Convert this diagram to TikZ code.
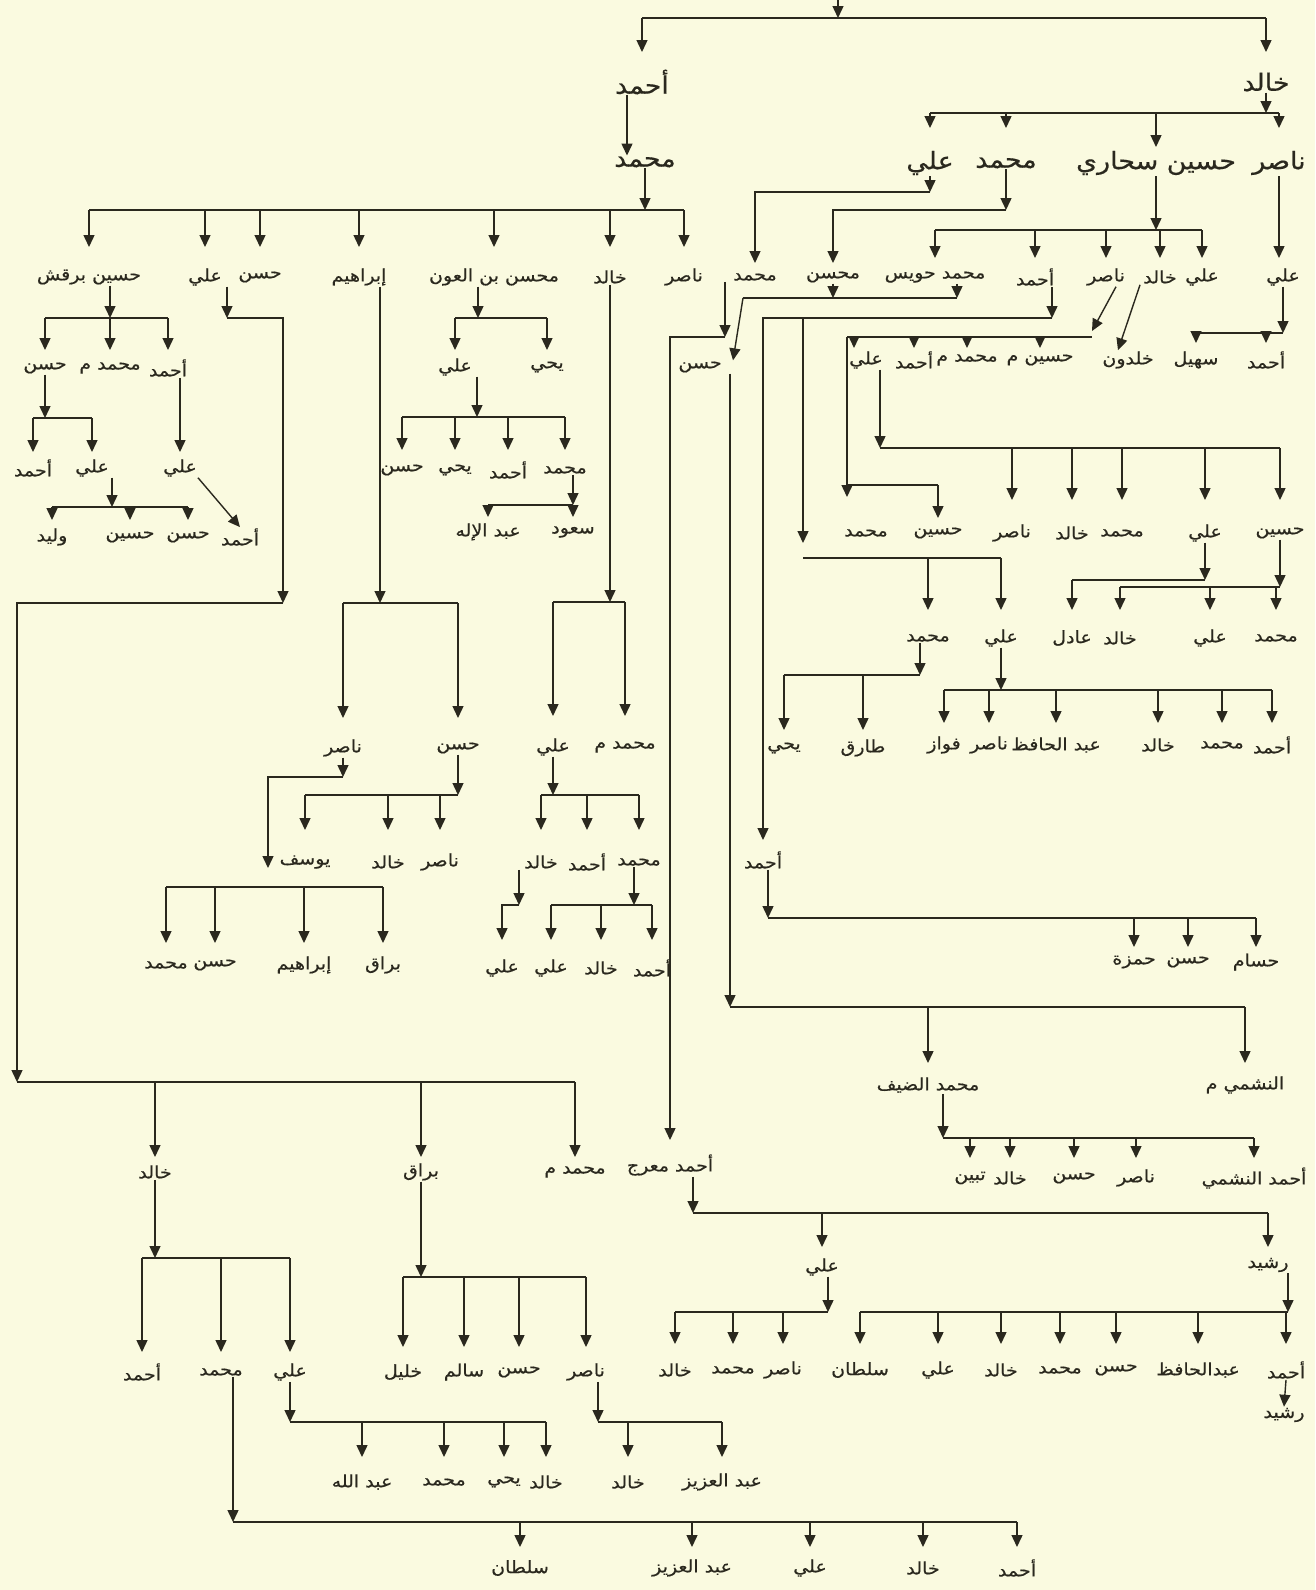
\documentclass[tikz,border=0pt]{standalone}
\usepackage{fontspec}
\usetikzlibrary{arrows.meta}
\newfontfamily\arabicfont[Script=Arabic, FakeStretch=1.12, FakeBold=0.5]{DejaVu Sans}
\TeXXeTstate=1
\definecolor{paper}{RGB}{250,250,224}
\definecolor{ink}{RGB}{42,40,30}
\newcommand{\ar}[1]{\beginR#1\endR}

\begin{document}
\begin{tikzpicture}[
    x=1pt, y=-1pt,
    person/.style={inner sep=1pt, text=ink, font=\arabicfont\fontsize{17}{17}\selectfont},
    elder/.style={inner sep=1pt, text=ink, font=\arabicfont\fontsize{24}{24}\selectfont},
    link/.style={draw=ink, line width=1.4pt},
    arr/.style={link, -{Triangle[length=12pt,width=11pt]}}
]
\fill[paper] (0,0) rectangle (1315,1590);
\useasboundingbox (0,0) rectangle (1315,1590);

% top
\coordinate (root) at (838,-2);
\coordinate (b0) at (0,18);
\coordinate (t0) at (0,52);
\node[elder] (ahmad) at (642,82) {\ar{أحمد}};
\node[elder] (khalid) at (1266,82) {\ar{خالد}};
\draw[link] (ahmad |- b0) -- (khalid |- b0);
\draw[arr] (root) -- (root |- b0);
\foreach \ch in {ahmad,khalid} \draw[arr] (\ch |- b0) -- (\ch |- t0);

\node[elder] (muhammad) at (645,162) {\ar{محمد}};
\coordinate (ahx) at ([xshift=-15pt]ahmad.south);
\draw[arr] (ahx) -- (ahx |- muhammad.north);

% sons of Muhammad
\coordinate (bm) at (0,210);
\coordinate (tm) at (0,247);
\node[person] (mhb) at (89,277) {\ar{حسين برقش}};
\node[person] (mal) at (205,277) {\ar{علي}};
\node[person] (mhs) at (260,277) {\ar{حسن}};
\node[person] (mib) at (359,277) {\ar{إبراهيم}};
\node[person] (mmh) at (494,277) {\ar{محسن بن العون}};
\node[person] (mkh) at (610,277) {\ar{خالد}};
\node[person] (mna) at (684,277) {\ar{ناصر}};
\draw[link] (mhb |- bm) -- (mna |- bm);
\draw[arr] (muhammad.south) -- (muhammad |- bm);
\foreach \ch in {mhb,mal,mhs,mib,mmh,mkh,mna} \draw[arr] (\ch |- bm) -- (\ch |- tm);

% sons of Khalid
\coordinate (bk) at (0,113);
\coordinate (tk) at (0,128);
\coordinate (tk2) at (0,147);
\node[elder] (kal) at (930,163) {\ar{علي}};
\node[elder] (kmu) at (1006,163) {\ar{محمد}};
\node[elder] (khu) at (1156,163) {\ar{حسين سحاري}};
\node[elder] (kna) at (1279,163) {\ar{ناصر}};
\draw[link] (kal |- bk) -- (kna |- bk);
\draw[arr] (khalid.south) -- (khalid |- bk);
\foreach \ch in {kal,kmu,kna} \draw[arr] (\ch |- bk) -- (\ch |- tk);
\draw[arr] (khu |- bk) -- (khu |- tk2);

\coordinate (bka) at (0,192);
\coordinate (bkm) at (0,210);
\coordinate (tka) at (0,263);
\node[person] (kam) at (755,277) {\ar{محمد}};
\node[person] (kmm) at (833,277) {\ar{محسن}};
\draw[arr] (kal.south) -- (kal |- bka);
\draw[arr] (kal |- bka) -| (kam |- tka);
\draw[arr] (kmu.south) -- (kmu |- bkm);
\draw[arr] (kmu |- bkm) -| (kmm |- tka);

% sons of Husayn Sahari
\coordinate (bh) at (0,230);
\coordinate (th) at (0,258);
\node[person] (hmh) at (935,277) {\ar{محمد حويس}};
\node[person] (hah) at (1035,277) {\ar{أحمد}};
\node[person] (hna) at (1106,277) {\ar{ناصر}};
\node[person] (hkh) at (1160,277) {\ar{خالد}};
\node[person] (hal) at (1202,277) {\ar{علي}};
\draw[link] (hmh |- bh) -- (hal |- bh);
\draw[arr] (khu.south) -- (khu |- bh);
\foreach \ch in {hmh,hah,hna,hkh,hal} \draw[arr] (\ch |- bh) -- (\ch |- th);

% son of Nasir
\node[person] (nal) at (1283,277) {\ar{علي}};
\draw[arr] (kna.south) -- (kna.south |- th);
\coordinate (bn) at (0,333);
\coordinate (tn) at (0,343);
\node[person] (nsh) at (1196,360) {\ar{سهيل}};
\node[person] (nah) at (1266,360) {\ar{أحمد}};
\draw[link] (nsh |- bn) -- (nal |- bn);
\draw[arr] (nal.south) -- (nal |- bn);
\foreach \ch in {nsh,nah} \draw[arr] (\ch |- bn) -- (\ch |- tn);

% Hasan under Muhsin
\coordinate (jn) at (743,298);
\node[person] (hsn) at (700,367) {\ar{حسن}};
\coordinate (hmhx) at ([xshift=22pt]hmh.south);
\draw[arr] (hmhx) -- (hmhx |- jn);
\draw[link] (jn) -- (hmhx |- jn);
\draw[arr] (kmm.south) -- (kmm |- jn);
\draw[arr] (jn) -- ([xshift=33pt]hsn.north);

% Ahmad Ma'raj
\coordinate (kamx) at ([xshift=-30pt]kam.south);
\coordinate (bkam) at (0,337);
\coordinate (tmj) at (0,1140);
\node[person] (maraj) at (670,1165) {\ar{أحمد معرج}};
\draw[arr] (kamx) -- (kamx |- bkam);
\draw[arr] (kamx |- bkam) -| (maraj |- tmj);

% sons of Hasan
\coordinate (hsnx) at ([xshift=30pt]hsn.south);
\coordinate (bs) at (0,1007);
\coordinate (ts) at (0,1063);
\node[person] (dayf) at (928,1085) {\ar{محمد الضيف}};
\node[person] (nashmi) at (1245,1085) {\ar{النشمي م}};
\draw[arr] (hsnx) -- (hsnx |- bs);
\draw[link] (hsnx |- bs) -- (nashmi |- bs);
\foreach \ch in {dayf,nashmi} \draw[arr] (\ch |- bs) -- (\ch |- ts);

\coordinate (dfx) at ([xshift=15pt]dayf.south);
\coordinate (bd) at (0,1138);
\coordinate (td) at (0,1158);
\node[person] (dtb) at (970,1178) {\ar{تبين}};
\node[person] (dkh) at (1010,1178) {\ar{خالد}};
\node[person] (dhs) at (1074,1178) {\ar{حسن}};
\node[person] (dna) at (1136,1178) {\ar{ناصر}};
\node[person] (dan) at (1254,1178) {\ar{أحمد النشمي}};
\draw[arr] (dfx) -- (dfx |- bd);
\draw[link] (dfx |- bd) -- (dan |- bd);
\foreach \ch in {dtb,dkh,dhs,dna,dan} \draw[arr] (\ch |- bd) -- (\ch |- td);

% sons of Ahmad (son of Husayn Sahari)
\coordinate (hahx) at ([xshift=17pt]hah.south);
\coordinate (ba) at (0,318);
\coordinate (ta) at (0,840);
\node[person] (ahm) at (763,860) {\ar{أحمد}};
\draw[arr] (hahx) -- (hahx |- ba);
\draw[arr] (hahx |- ba) -| (ahm |- ta);
\coordinate (fork) at (803,318);
\coordinate (tf) at (0,543);
\coordinate (bf) at (0,558);
\coordinate (tff) at (0,610);
\node[person] (fmu) at (928,638) {\ar{محمد}};
\node[person] (fal) at (1001,638) {\ar{علي}};
\draw[arr] (fork) -- (fork |- tf);
\draw[link] (fork |- bf) -- (fal |- bf);
\foreach \ch in {fmu,fal} \draw[arr] (\ch |- bf) -- (\ch |- tff);

\coordinate (ahmx) at ([xshift=5pt]ahm.south);
\coordinate (bam) at (0,918);
\coordinate (tam) at (0,947);
\node[person] (ahz) at (1134,962) {\ar{حمزة}};
\node[person] (ahs) at (1188,962) {\ar{حسن}};
\node[person] (ahsm) at (1256,962) {\ar{حسام}};
\draw[arr] (ahmx) -- (ahmx |- bam);
\draw[link] (ahmx |- bam) -- (ahsm |- bam);
\foreach \ch in {ahz,ahs,ahsm} \draw[arr] (\ch |- bam) -- (\ch |- tam);

% sons of Nasir (son of Husayn Sahari)
\coordinate (bq) at (0,337);
\coordinate (tq) at (0,348);
\coordinate (nst) at (847,337);
\coordinate (nend) at (1092,337);
\node[person] (qal) at (866,360) {\ar{علي}};
\node[person] (qah) at (914,360) {\ar{أحمد}};
\node[person] (qmm) at (967,360) {\ar{محمد م}};
\node[person] (qhm) at (1040,360) {\ar{حسين م}};
\draw[arr] ([xshift=10pt]hna.south) -- ([yshift=6pt]nend);
\draw[link] (nst) -- (nend);
\foreach \ch in {qah,qmm,qhm} \draw[arr] (\ch |- bq) -- (\ch |- tq);
\coordinate (qalx) at ([xshift=-12pt]qal.north);
\draw[arr] (qalx |- bq) -- (qalx |- tq);
\coordinate (tqm) at (0,497);
\coordinate (bqh) at (0,485);
\coordinate (tqh) at (0,518);
\node[person] (qmu) at (866,533) {\ar{محمد}};
\node[person] (qhs) at (938,533) {\ar{حسين}};
\draw[arr] (nst) -- (nst |- tqm);
\draw[link] (nst |- bqh) -- (qhs |- bqh);
\draw[arr] (qhs |- bqh) -- (qhs |- tqh);

\node[person] (kld) at (1128,360) {\ar{خلدون}};
\draw[arr] ([xshift=-20pt]hkh.south) -- ([xshift=-10pt]kld.north);

% sons of Ali (son of Nasir)
\coordinate (qax) at ([xshift=14pt]qal.south);
\coordinate (br) at (0,448);
\coordinate (tr) at (0,500);
\node[person] (rna) at (1012,533) {\ar{ناصر}};
\node[person] (rkh) at (1072,533) {\ar{خالد}};
\node[person] (rmu) at (1122,533) {\ar{محمد}};
\node[person] (ral) at (1205,533) {\ar{علي}};
\node[person] (rhs) at (1280,533) {\ar{حسين}};
\draw[arr] (qax) -- (qax |- br);
\draw[link] (qax |- br) -- (rhs |- br);
\foreach \ch in {rna,rkh,rmu,ral,rhs} \draw[arr] (\ch |- br) -- (\ch |- tr);

\coordinate (bhs) at (0,587);
\coordinate (bal) at (0,580);
\coordinate (tsx) at (0,610);
\node[person] (skh) at (1120,638) {\ar{خالد}};
\node[person] (sal) at (1210,638) {\ar{علي}};
\node[person] (smu) at (1276,638) {\ar{محمد}};
\node[person] (sad) at (1072,638) {\ar{عادل}};
\draw[arr] (rhs.south) -- (rhs |- bhs);
\draw[link] (skh |- bhs) -- (rhs |- bhs);
\foreach \ch in {skh,sal,smu} \draw[arr] (\ch |- bhs) -- (\ch |- tsx);
\draw[arr] (ral.south) -- (ral |- bal);
\draw[link] (sad |- bal) -- (ral |- bal);
\draw[arr] (sad |- bal) -- (sad |- tsx);

% sons of Ali (row 638)
\coordinate (bu) at (0,690);
\coordinate (tu) at (0,723);
\node[person] (ufw) at (944,745) {\ar{فواز}};
\node[person] (una) at (989,745) {\ar{ناصر}};
\node[person] (uab) at (1056,745) {\ar{عبد الحافظ}};
\node[person] (ukh) at (1158,745) {\ar{خالد}};
\node[person] (umu) at (1222,745) {\ar{محمد}};
\node[person] (uah) at (1272,745) {\ar{أحمد}};
\draw[arr] (fal.south) -- (fal |- bu);
\draw[link] (ufw |- bu) -- (uah |- bu);
\foreach \ch in {ufw,una,uab,ukh,umu,uah} \draw[arr] (\ch |- bu) -- (\ch |- tu);

\coordinate (fmx) at ([xshift=-8pt]fmu.south);
\coordinate (bv) at (0,675);
\coordinate (tv) at (0,730);
\node[person] (vya) at (784,748) {\ar{يحي}};
\node[person] (vta) at (863,748) {\ar{طارق}};
\draw[arr] (fmx) -- (fmx |- bv);
\draw[link] (vya |- bv) -- (fmx |- bv);
\foreach \ch in {vya,vta} \draw[arr] (\ch |- bv) -- (\ch |- tv);

% Husayn Barqash
\coordinate (pbx) at ([xshift=21pt]mhb.south);
\coordinate (bp) at (0,318);
\coordinate (tp) at (0,350);
\node[person] (pha) at (45,368) {\ar{حسن}};
\node[person] (pmm) at (110,368) {\ar{محمد م}};
\node[person] (pah) at (168,368) {\ar{أحمد}};
\draw[arr] (pbx) -- (pbx |- bp);
\draw[link] (pha |- bp) -- (pah |- bp);
\foreach \ch in {pha,pmm,pah} \draw[arr] (\ch |- bp) -- (\ch |- tp);

\coordinate (bw) at (0,418);
\coordinate (tw) at (0,452);
\node[person] (waa) at (33,468) {\ar{أحمد}};
\node[person] (wal) at (92,468) {\ar{علي}};
\node[person] (wal2) at (180,468) {\ar{علي}};
\draw[arr] (pha.south) -- (pha |- bw);
\draw[link] (waa |- bw) -- (wal |- bw);
\foreach \ch in {waa,wal} \draw[arr] (\ch |- bw) -- (\ch |- tw);
\draw[arr] (wal2 |- pah.south) -- (wal2 |- tw);

\coordinate (wlx) at ([xshift=20pt]wal.south);
\coordinate (bx) at (0,507);
\coordinate (tx) at (0,520);
\node[person] (xwl) at (52,537) {\ar{وليد}};
\node[person] (xhs) at (130,537) {\ar{حسين}};
\node[person] (xhn) at (188,537) {\ar{حسن}};
\node[person] (xah) at (240,537) {\ar{أحمد}};
\draw[arr] (wlx) -- (wlx |- bx);
\draw[link] (xwl |- bx) -- (xhn |- bx);
\foreach \ch in {xwl,xhs,xhn} \draw[arr] (\ch |- bx) -- (\ch |- tx);
\draw[arr] (wal2.south east) -- (xah.north);

% Ali (son of Muhammad) down to the bottom line
\coordinate (la) at ([xshift=22pt]mal.south);
\coordinate (lb) at (283,318);
\coordinate (lc) at (17,603);
\coordinate (ld) at (0,1082);
\coordinate (tl) at (0,1157);
\draw[arr] (la) -- (la |- lb);
\draw[arr] (la |- lb) -- (lb) -- (lb |- lc);
\draw[arr] (lb |- lc) -- (lc) -- (lc |- ld);
\node[person] (dkh2) at (155,1172) {\ar{خالد}};
\node[person] (dbr) at (421,1172) {\ar{براق}};
\node[person] (dmm) at (575,1172) {\ar{محمد م}};
\draw[link] (lc |- ld) -- (dmm |- ld);
\foreach \ch in {dkh2,dbr,dmm} \draw[arr] (\ch |- ld) -- (\ch |- tl);

\coordinate (be) at (0,1258);
\coordinate (te) at (0,1352);
\node[person] (eah) at (142,1372) {\ar{أحمد}};
\node[person] (emu) at (221,1372) {\ar{محمد}};
\node[person] (eal) at (290,1372) {\ar{علي}};
\draw[arr] (dkh2.south) -- (dkh2 |- be);
\draw[link] (eah |- be) -- (eal |- be);
\foreach \ch in {eah,emu,eal} \draw[arr] (\ch |- be) -- (\ch |- te);

\coordinate (emx) at ([xshift=12pt]emu.south);
\coordinate (bg) at (0,1522);
\coordinate (tg) at (0,1547);
\node[person] (gsu) at (520,1568) {\ar{سلطان}};
\node[person] (gaz) at (692,1568) {\ar{عبد العزيز}};
\node[person] (gal) at (810,1568) {\ar{علي}};
\node[person] (gkh) at (923,1568) {\ar{خالد}};
\node[person] (gah) at (1017,1568) {\ar{أحمد}};
\draw[arr] (emx) -- (emx |- bg);
\draw[link] (emx |- bg) -- (gah |- bg);
\foreach \ch in {gsu,gaz,gal,gkh,gah} \draw[arr] (\ch |- bg) -- (\ch |- tg);

\coordinate (bi) at (0,1422);
\coordinate (ti) at (0,1457);
\node[person] (iab) at (362,1482) {\ar{عبد الله}};
\node[person] (imu) at (444,1482) {\ar{محمد}};
\node[person] (iya) at (504,1482) {\ar{يحي}};
\node[person] (ikh) at (546,1482) {\ar{خالد}};
\draw[arr] (eal.south) -- (eal |- bi);
\draw[link] (eal |- bi) -- (ikh |- bi);
\foreach \ch in {iab,imu,iya,ikh} \draw[arr] (\ch |- bi) -- (\ch |- ti);

\coordinate (bj) at (0,1277);
\coordinate (tj) at (0,1347);
\node[person] (jkl) at (403,1372) {\ar{خليل}};
\node[person] (jsa) at (464,1372) {\ar{سالم}};
\node[person] (jhs) at (519,1372) {\ar{حسن}};
\node[person] (jna) at (586,1372) {\ar{ناصر}};
\draw[arr] (dbr.south) -- (dbr |- bj);
\draw[link] (jkl |- bj) -- (jna |- bj);
\foreach \ch in {jkl,jsa,jhs,jna} \draw[arr] (\ch |- bj) -- (\ch |- tj);

\coordinate (jnx) at ([xshift=12pt]jna.south);
\node[person] (kkh) at (628,1482) {\ar{خالد}};
\node[person] (kaz) at (722,1482) {\ar{عبد العزيز}};
\draw[arr] (jnx) -- (jnx |- bi);
\draw[link] (jnx |- bi) -- (kaz |- bi);
\foreach \ch in {kkh,kaz} \draw[arr] (\ch |- bi) -- (\ch |- ti);

% Ibrahim
\coordinate (ibx) at ([xshift=21pt]mib.south);
\coordinate (bl) at (0,603);
\coordinate (tll) at (0,718);
\node[person] (lna) at (343,748) {\ar{ناصر}};
\node[person] (lhs) at (458,748) {\ar{حسن}};
\draw[arr] (ibx) -- (ibx |- bl);
\draw[link] (lna |- bl) -- (lhs |- bl);
\foreach \ch in {lna,lhs} \draw[arr] (\ch |- bl) -- (\ch |- tll);

\coordinate (bln) at (0,777);
\coordinate (lnc) at (268,868);
\coordinate (by) at (0,887);
\coordinate (ty) at (0,943);
\node[person] (ymu) at (166,965) {\ar{محمد}};
\node[person] (yhs) at (215,965) {\ar{حسن}};
\node[person] (yib) at (304,965) {\ar{إبراهيم}};
\node[person] (ybr) at (383,965) {\ar{براق}};
\draw[arr] (lna.south) -- (lna |- bln);
\draw[arr] (lna |- bln) -| (lnc);
\draw[link] (ymu |- by) -- (ybr |- by);
\foreach \ch in {ymu,yhs,yib,ybr} \draw[arr] (\ch |- by) -- (\ch |- ty);

\coordinate (bz) at (0,795);
\coordinate (tz) at (0,830);
\node[person] (zys) at (305,862) {\ar{يوسف}};
\node[person] (zkh) at (388,862) {\ar{خالد}};
\node[person] (zna) at (440,862) {\ar{ناصر}};
\draw[arr] (lhs.south) -- (lhs |- bz);
\draw[link] (zys |- bz) -- (lhs |- bz);
\foreach \ch in {zys,zkh,zna} \draw[arr] (\ch |- bz) -- (\ch |- tz);

% Muhsin bin al-Awn
\coordinate (mhx) at ([xshift=-16pt]mmh.south);
\coordinate (bo) at (0,318);
\coordinate (to) at (0,350);
\node[person] (oal) at (455,367) {\ar{علي}};
\node[person] (oya) at (547,367) {\ar{يحي}};
\draw[arr] (mhx) -- (mhx |- bo);
\draw[link] (oal |- bo) -- (oya |- bo);
\foreach \ch in {oal,oya} \draw[arr] (\ch |- bo) -- (\ch |- to);

\coordinate (oax) at ([xshift=22pt]oal.south);
\coordinate (bpp) at (0,417);
\coordinate (tpp) at (0,450);
\node[person] (phs) at (402,470) {\ar{حسن}};
\node[person] (pya) at (455,470) {\ar{يحي}};
\node[person] (pahm) at (508,470) {\ar{أحمد}};
\node[person] (pmu) at (565,470) {\ar{محمد}};
\draw[arr] (oax) -- (oax |- bpp);
\draw[link] (phs |- bpp) -- (pmu |- bpp);
\foreach \ch in {phs,pya,pahm,pmu} \draw[arr] (\ch |- bpp) -- (\ch |- tpp);

\coordinate (pmx) at ([xshift=8pt]pmu.south);
\coordinate (bsa) at (0,505);
\coordinate (tsa) at (0,517);
\node[person] (sil) at (488,532) {\ar{عبد الإله}};
\node[person] (ssu) at (573,532) {\ar{سعود}};
\draw[arr] (pmx) -- (pmx |- bsa);
\draw[link] (sil |- bsa) -- (pmx |- bsa);
\foreach \ch in {sil,ssu} \draw[arr] (\ch |- bsa) -- (\ch |- tsa);

% Khalid (son of Muhammad)
\coordinate (bkk) at (0,602);
\coordinate (tkk) at (0,716);
\node[person] (tal1) at (553,747) {\ar{علي}};
\node[person] (tmm) at (625,747) {\ar{محمد م}};
\draw[arr] (mkh.south) -- (mkh |- bkk);
\draw[link] (tal1 |- bkk) -- (tmm |- bkk);
\foreach \ch in {tal1,tmm} \draw[arr] (\ch |- bkk) -- (\ch |- tkk);

\coordinate (bt) at (0,795);
\coordinate (tt) at (0,830);
\node[person] (ukh2) at (541,862) {\ar{خالد}};
\node[person] (uah2) at (587,862) {\ar{أحمد}};
\node[person] (umu2) at (639,862) {\ar{محمد}};
\draw[arr] (tal1.south) -- (tal1 |- bt);
\draw[link] (ukh2 |- bt) -- (umu2 |- bt);
\foreach \ch in {ukh2,uah2,umu2} \draw[arr] (\ch |- bt) -- (\ch |- tt);

\coordinate (u2x) at ([xshift=-22pt]ukh2.south);
\coordinate (u3x) at ([xshift=-5pt]umu2.south);
\coordinate (bc) at (0,905);
\coordinate (tc) at (0,940);
\node[person] (cal) at (502,968) {\ar{علي}};
\node[person] (cal2) at (551,968) {\ar{علي}};
\node[person] (ckh) at (601,968) {\ar{خالد}};
\node[person] (cah) at (652,968) {\ar{أحمد}};
\draw[arr] (u2x) -- (u2x |- bc);
\draw[arr] (u2x |- bc) -| (cal |- tc);
\draw[arr] (u3x) -- (u3x |- bc);
\draw[link] (cal2 |- bc) -- (cah |- bc);
\foreach \ch in {cal2,ckh,cah} \draw[arr] (\ch |- bc) -- (\ch |- tc);

% Ahmad Ma'raj
\coordinate (mjx) at ([xshift=23pt]maraj.south);
\coordinate (bmj) at (0,1213);
\coordinate (tmj2) at (0,1247);
\node[person] (mal2) at (822,1267) {\ar{علي}};
\node[person] (mra) at (1268,1265) {\ar{رشيد}};
\draw[arr] (mjx) -- (mjx |- bmj);
\draw[link] (mjx |- bmj) -- (mra |- bmj);
\foreach \ch in {mal2,mra} \draw[arr] (\ch |- bmj) -- (\ch |- tmj2);

\coordinate (max) at ([xshift=6pt]mal2.south);
\coordinate (brr) at (0,1312);
\coordinate (trr) at (0,1344);
\node[person] (vkh) at (675,1370) {\ar{خالد}};
\node[person] (vmu) at (733,1370) {\ar{محمد}};
\node[person] (vna) at (783,1370) {\ar{ناصر}};
\draw[arr] (max) -- (max |- brr);
\draw[link] (vkh |- brr) -- (max |- brr);
\foreach \ch in {vkh,vmu,vna} \draw[arr] (\ch |- brr) -- (\ch |- trr);

\coordinate (mrx) at ([xshift=20pt]mra.south);
\node[person] (wsu) at (860,1370) {\ar{سلطان}};
\node[person] (wal3) at (938,1370) {\ar{علي}};
\node[person] (wkh) at (1001,1370) {\ar{خالد}};
\node[person] (wmu) at (1060,1370) {\ar{محمد}};
\node[person] (whs) at (1116,1370) {\ar{حسن}};
\node[person] (wab) at (1198,1370) {\ar{عبدالحافظ}};
\node[person] (wah) at (1286,1370) {\ar{أحمد}};
\draw[arr] (mrx) -- (mrx |- brr);
\draw[link] (wsu |- brr) -- (mrx |- brr);
\foreach \ch in {wsu,wal3,wkh,wmu,whs,wab,wah} \draw[arr] (\ch |- brr) -- (\ch |- trr);

\node[person] (wra) at (1284,1415) {\ar{رشيد}};
\draw[arr] (wah.south) -- (wra.north);
\end{tikzpicture}
\end{document}
